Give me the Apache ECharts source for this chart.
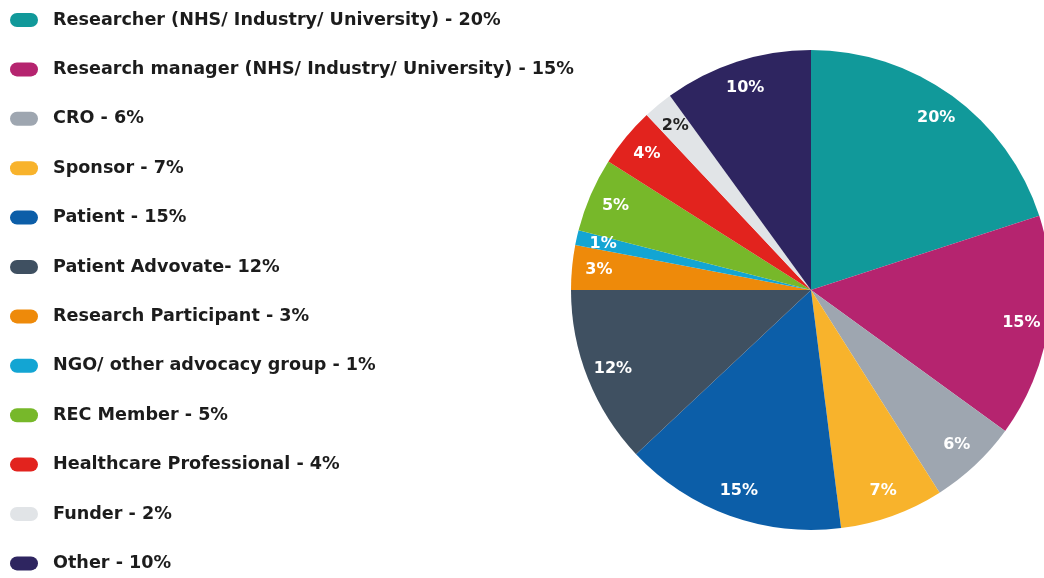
<!DOCTYPE html>
<html>
<head>
<meta charset="utf-8">
<script src="https://cdn.jsdelivr.net/npm/echarts@6/dist/echarts.min.js"></script>
<style>
  html, body { margin: 0; padding: 0; background: #fff; }
  #main { width: 1044px; height: 578px; }
</style>
</head>
<body>
<div id="main"></div>
<script>
// respondent groups, in pie order (clockwise from 12 o'clock)
var roles = [
    'Researcher (NHS/ Industry/ University)',
    'Research manager (NHS/ Industry/ University)',
    'CRO',
    'Sponsor',
    'Patient',
    'Patient Advovate',
    'Research Participant',
    'NGO/ other advocacy group',
    'REC Member',
    'Healthcare Professional',
    'Funder',
    'Other'
];
var shares = [20, 15, 6, 7, 15, 12, 3, 1, 5, 4, 2, 10];
// legend wording is not quite uniform in the source ("Advovate- 12%")
var legendSep = [' - ', ' - ', ' - ', ' - ', ' - ', '- ', ' - ', ' - ', ' - ', ' - ', ' - ', ' - '];
var colors = ['#11999a', '#b5246f', '#9ea6b0', '#f8b32c', '#0c5ea8', '#3f5061',
              '#ee8a0a', '#13a5d3', '#77b82a', '#e2231e', '#e1e4e7', '#2e2560'];

var myChart = echarts.init(document.getElementById('main'));

var sliceData = roles.map(function (name, i) {
    return { name: name, value: shares[i], itemStyle: { color: colors[i] } };
});
// second ring only carries the labels, pushed out towards the rim
var labelData = roles.map(function (name, i) {
    return {
        name: name,
        value: shares[i],
        label: { color: name === 'Funder' ? '#222' : '#fff' }
    };
});

var option = {
    animation: false,
    legend: {
        orient: 'vertical',
        left: 10,
        top: 10,
        padding: 0,
        itemWidth: 28,
        itemHeight: 14,
        itemGap: 29.4,
        // pill shaped markers
        icon: 'path://M7,0 H21 A7,7 0 0 1 21,14 H7 A7,7 0 0 1 7,0 Z',
        data: roles,
        formatter: function (name) {
            var i = roles.indexOf(name);
            return name + legendSep[i] + shares[i] + '%';
        },
        textStyle: {
            fontFamily: 'DejaVu Sans',
            fontWeight: 'bold',
            fontSize: 17.6,
            lineHeight: 20,
            color: '#1c1c1c',
            padding: [0, 0, 0, 10]
        }
    },
    series: [{
        type: 'pie',
        center: [811, 290],
        radius: [0, 240],
        startAngle: 90,
        clockwise: true,
        silent: true,
        label: { show: false },
        labelLine: { show: false },
        itemStyle: { borderWidth: 0 },
        data: sliceData
    }, {
        type: 'pie',
        center: [811, 290],
        radius: [180, 240],
        startAngle: 90,
        clockwise: true,
        silent: true,
        itemStyle: { color: 'rgba(0,0,0,0)', borderWidth: 0 },
        label: {
            show: true,
            position: 'inside',
            formatter: '{c}%',
            fontFamily: 'DejaVu Sans',
            fontWeight: 'bold',
            fontSize: 16
        },
        labelLine: { show: false },
        data: labelData
    }]
};
myChart.setOption(option);
</script>
</body>
</html>
